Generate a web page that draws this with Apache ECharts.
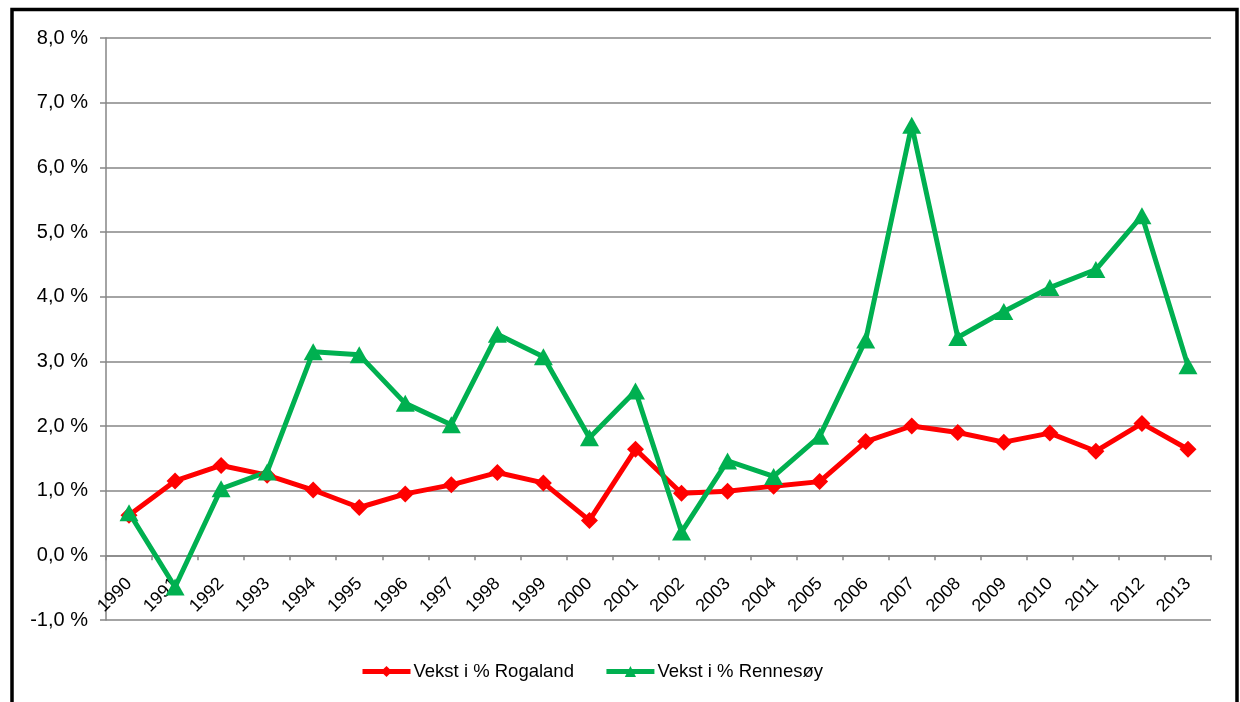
<!DOCTYPE html>
<html>
<head>
<meta charset="utf-8">
<script src="https://cdn.jsdelivr.net/npm/echarts@6/dist/echarts.min.js"></script>
<style>
html,body{margin:0;padding:0;background:#fff;}
#chart{width:1240px;height:702px;}
</style>
</head>
<body>
<div id="chart"></div>
<script>
const years = ['1990','1991','1992','1993','1994','1995','1996','1997','1998','1999','2000','2001','2002','2003','2004','2005','2006','2007','2008','2009','2010','2011','2012','2013'];
const rogaland = [0.62,1.15,1.39,1.24,1.01,0.74,0.95,1.09,1.28,1.12,0.54,1.64,0.96,0.99,1.07,1.14,1.76,2.0,1.9,1.75,1.89,1.61,2.04,1.64];
const rennesoy = [0.66,-0.49,1.03,1.29,3.15,3.1,2.35,2.02,3.42,3.07,1.82,2.54,0.36,1.46,1.22,1.84,3.33,6.65,3.37,3.77,4.14,4.42,5.25,2.93];
const yTicks = {min:-1, max:8, interval:1};

const chart = echarts.init(document.getElementById('chart'), null, {renderer:'canvas'});
const font = 'Arial, "Liberation Sans", sans-serif';
chart.setOption({
  animation:false,
  backgroundColor:'#fff',
  graphic:[{
    type:'polyline',
    shape:{points:[[12,740],[12,9.5],[1237,9.5],[1237,740]]},
    style:{stroke:'#000',lineWidth:3.5,fill:null},
    z:100
  }],
  grid:{left:106,right:29,top:38,bottom:82,containLabel:false},
  legend:{
    left:355,top:657,
    itemWidth:48,itemHeight:14,itemGap:30,
    lineStyle:{width:5},
    textStyle:{fontFamily:font,fontSize:18.5,color:'#000',padding:[0,0,0,-2]},
    data:['Vekst i % Rogaland','Vekst i % Rennesøy']
  },
  xAxis:{
    type:'category',
    data:years,
    boundaryGap:true,
    axisLine:{onZero:true,lineStyle:{color:'#868686',width:1.5}},
    axisTick:{show:true,length:5,alignWithLabel:false,lineStyle:{color:'#868686',width:1.5}},
    axisLabel:{rotate:45,margin:-39,interval:0,fontFamily:font,fontSize:18,color:'#000'},
    splitLine:{show:false}
  },
  yAxis:{
    type:'value',
    min:yTicks.min,max:yTicks.max,interval:yTicks.interval,
    axisLine:{show:true,lineStyle:{color:'#868686',width:1.5}},
    axisTick:{show:true,length:6,lineStyle:{color:'#868686',width:1.5}},
    axisLabel:{margin:18,fontFamily:font,fontSize:20,color:'#000',
      formatter:v=>v.toFixed(1).replace('.',',')+' %'},
    splitLine:{show:true,lineStyle:{color:'#868686',width:1.5}}
  },
  series:[
    {name:'Vekst i % Rogaland',type:'line',data:rogaland,
     symbol:'diamond',symbolSize:17,showAllSymbol:true,
     lineStyle:{color:'#FF0000',width:5},itemStyle:{color:'#FF0000'}},
    {name:'Vekst i % Rennesøy',type:'line',data:rennesoy,
     symbol:'triangle',symbolSize:[19,17],showAllSymbol:true,
     lineStyle:{color:'#00B050',width:5},itemStyle:{color:'#00B050'}}
  ]
});
</script>
</body>
</html>
